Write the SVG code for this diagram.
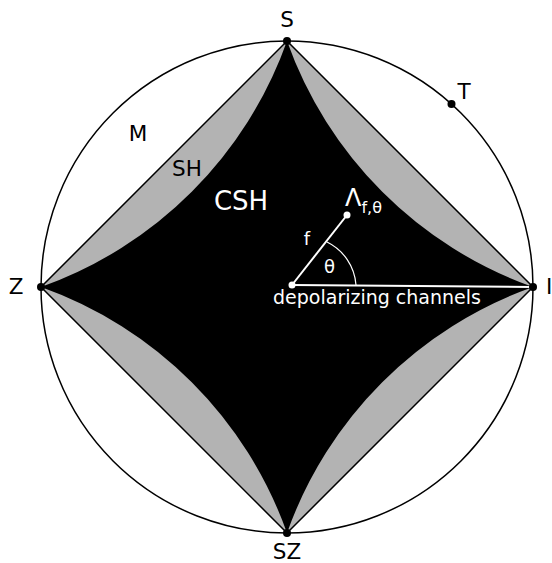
<svg xmlns="http://www.w3.org/2000/svg" width="552" height="563" viewBox="0 0 552 563">
<style>
text{font-family:"DejaVu Sans","Liberation Sans",sans-serif;}
.lbl{font-size:21.5px;fill:#000;}
.wl{fill:#fff;}
.dot{fill:#000;}
.wdot{fill:#fff;}
</style>
<rect width="552" height="563" fill="#fff"/>
<g id="outer-circle">
<circle cx="287" cy="287" r="246" fill="none" stroke="#000" stroke-width="1.5"/>
</g>
<g id="SH">
<path d="M287 41 L533 287 L287 533 L41 287 Z" fill="#b3b3b3" stroke="#000" stroke-width="1.5"/>
</g>
<g id="CSH">
<path d="M287 41 A405 405 0 0 0 533 287 A405 405 0 0 0 287 533 A405 405 0 0 0 41 287 A405 405 0 0 0 287 41 Z" fill="#000"/>
</g>
<g id="connectors">
<line x1="292" y1="285" x2="533" y2="287" stroke="#fff" stroke-width="2"/>
<line x1="292" y1="285" x2="347" y2="215" stroke="#fff" stroke-width="2"/>
<path d="M327 242 A52 52 0 0 1 356 285" fill="none" stroke="#fff" stroke-width="1.2"/>
</g>
<g id="node-S"><circle class="dot" cx="287" cy="41" r="4"/><text class="lbl" x="287" y="27" text-anchor="middle">S</text></g>
<g id="node-Z"><circle class="dot" cx="41" cy="287" r="4"/><text class="lbl" x="16" y="294" text-anchor="middle">Z</text></g>
<g id="node-I"><circle class="dot" cx="533" cy="287" r="4"/><text class="lbl" x="546" y="294">I</text></g>
<g id="node-SZ"><circle class="dot" cx="287" cy="533" r="4"/><text class="lbl" x="287" y="559" text-anchor="middle">SZ</text></g>
<g id="node-T"><circle class="dot" cx="451.5" cy="104" r="4"/><text class="lbl" x="464" y="99" text-anchor="middle">T</text></g>
<g id="label-M"><text class="lbl" x="138" y="141" text-anchor="middle">M</text></g>
<g id="label-SH"><text class="lbl" x="187" y="176" text-anchor="middle">SH</text></g>
<g id="label-CSH"><text class="wl" x="241" y="210" text-anchor="middle" style="font-size:26px">CSH</text></g>
<g id="node-depolarizing"><circle class="wdot" cx="292" cy="285" r="3.5"/><text class="wl" x="377" y="304" text-anchor="middle" style="font-size:19px">depolarizing channels</text></g>
<g id="node-lambda"><circle class="wdot" cx="347" cy="215" r="3.5"/><text class="wl" x="345" y="206" style="font-size:24px">Λ<tspan style="font-size:16px" dy="7">f,θ</tspan></text></g>
<g id="label-f"><text class="wl" x="307" y="245" text-anchor="middle" style="font-size:18px">f</text></g>
<g id="label-theta"><text class="wl" x="329.5" y="273" text-anchor="middle" style="font-size:18px">θ</text></g>
</svg>
